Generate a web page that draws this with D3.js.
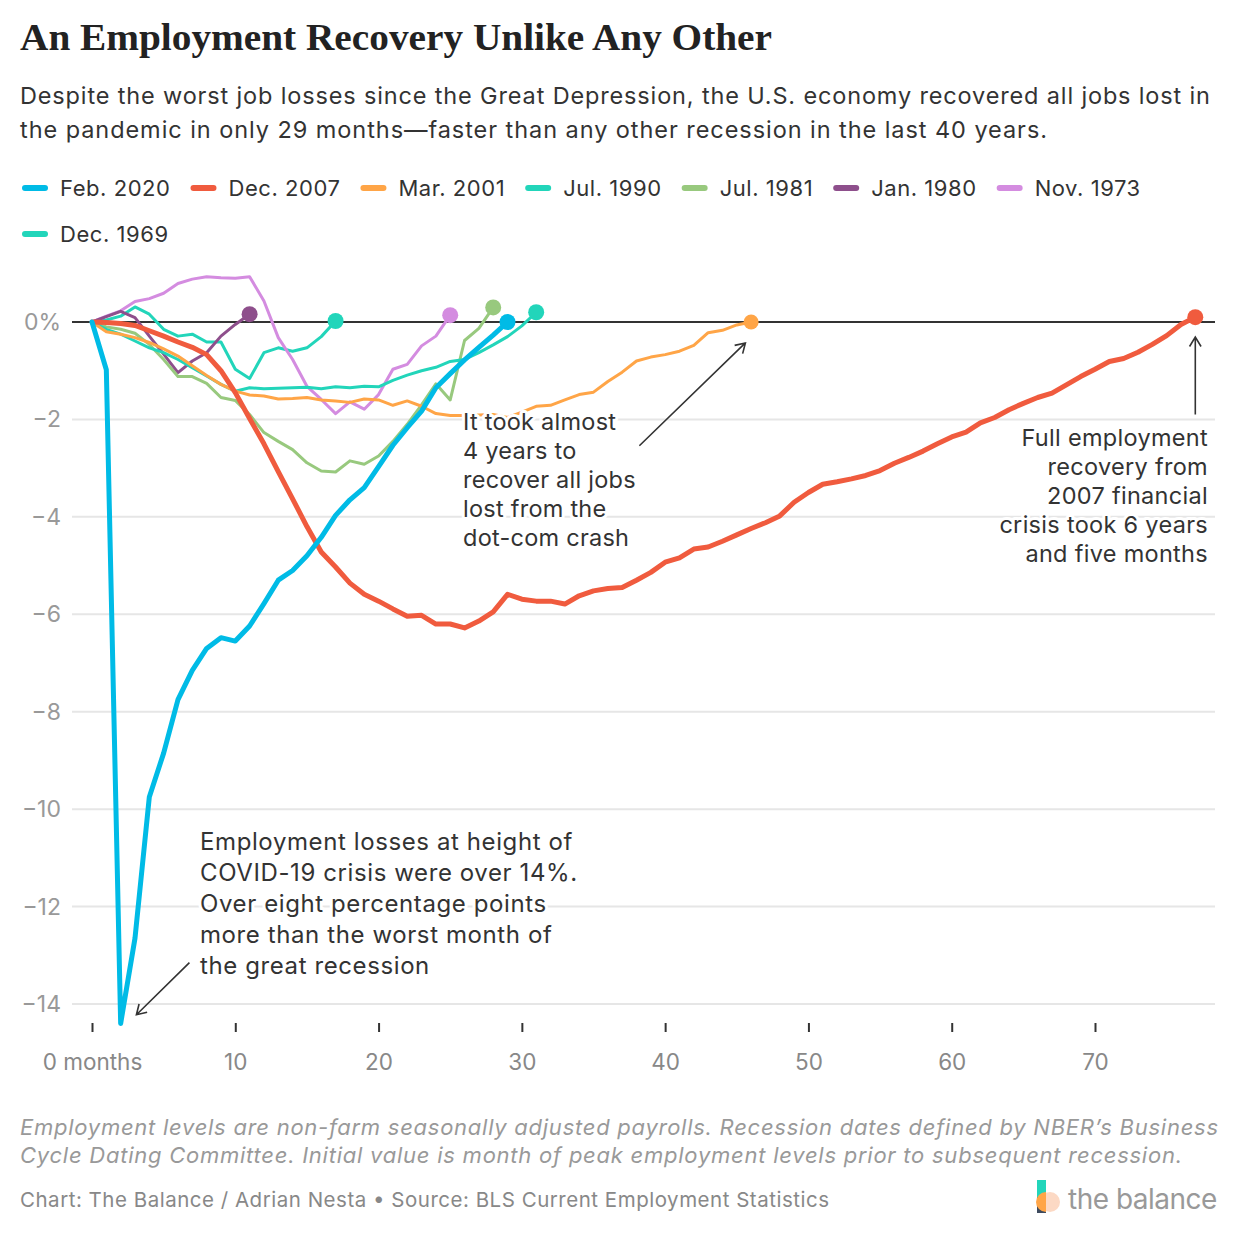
<!DOCTYPE html>
<html><head><meta charset="utf-8">
<script src="https://cdn.jsdelivr.net/npm/d3@7"></script>
<style>body{margin:0;background:#fff} svg{display:block}</style>
</head><body>
<svg id="chart" width="1240" height="1240"></svg>
<script>
// ---------- DATA ----------
const seriesNames = ["Feb. 2020","Dec. 2007","Mar. 2001","Jul. 1990","Jul. 1981","Jan. 1980","Nov. 1973","Dec. 1969"];
const feb2020 = [0,-0.98,-14.4,-12.65,-9.75,-8.85,-7.75,-7.15,-6.7,-6.48,
  -6.55,-6.24,-5.78,-5.3,-5.1,-4.8,-4.42,-3.97,-3.65,-3.4,
  -2.97,-2.53,-2.17,-1.83,-1.35,-1.06,-0.78,-0.52,-0.27,0.0];
const dec2007 = [0,-0.01,-0.03,-0.07,-0.18,-0.29,-0.41,-0.52,-0.67,-1.0,
  -1.45,-1.98,-2.5,-3.07,-3.63,-4.2,-4.72,-5.03,-5.36,-5.59,
  -5.73,-5.89,-6.04,-6.02,-6.2,-6.2,-6.28,-6.14,-5.95,-5.59,
  -5.69,-5.73,-5.73,-5.79,-5.62,-5.52,-5.47,-5.45,-5.3,-5.14,
  -4.93,-4.84,-4.66,-4.62,-4.5,-4.37,-4.24,-4.12,-3.98,-3.7,
  -3.5,-3.33,-3.28,-3.22,-3.15,-3.05,-2.9,-2.78,-2.65,-2.5,
  -2.36,-2.26,-2.07,-1.96,-1.8,-1.67,-1.55,-1.46,-1.29,-1.12,
  -0.97,-0.81,-0.75,-0.62,-0.46,-0.28,-0.05,0.1];
const mar2001 = [0,-0.2,-0.25,-0.32,-0.42,-0.55,-0.7,-0.9,-1.1,-1.28,
  -1.42,-1.5,-1.52,-1.58,-1.57,-1.55,-1.6,-1.62,-1.65,-1.58,
  -1.6,-1.71,-1.62,-1.73,-1.88,-1.92,-1.92,-1.91,-1.9,-1.96,
  -1.85,-1.73,-1.71,-1.6,-1.49,-1.44,-1.22,-1.03,-0.8,-0.72,
  -0.67,-0.6,-0.48,-0.22,-0.17,-0.06,0.0];
const jul1990 = [0,-0.15,-0.25,-0.39,-0.53,-0.63,-0.77,-0.94,-1.11,-1.28,
  -1.42,-1.35,-1.37,-1.36,-1.35,-1.34,-1.37,-1.33,-1.35,-1.32,
  -1.33,-1.2,-1.09,-1.0,-0.93,-0.81,-0.77,-0.63,-0.47,-0.3,
  -0.08,0.2];
const jul1981 = [0,-0.1,-0.15,-0.23,-0.46,-0.77,-1.12,-1.12,-1.26,-1.55,
  -1.61,-1.9,-2.27,-2.45,-2.62,-2.89,-3.06,-3.08,-2.85,-2.92,
  -2.75,-2.45,-2.1,-1.7,-1.27,-1.6,-0.38,-0.13,0.3];
const jan1980 = [0,0.11,0.22,0.09,-0.29,-0.66,-1.04,-0.8,-0.63,-0.29,-0.05,0.16];
const nov1973 = [0,0.12,0.23,0.42,0.48,0.59,0.79,0.88,0.93,0.91,
  0.9,0.93,0.43,-0.32,-0.77,-1.32,-1.59,-1.88,-1.64,-1.79,
  -1.49,-0.97,-0.87,-0.49,-0.29,0.14];
const dec1969 = [0,0.04,0.12,0.31,0.16,-0.15,-0.29,-0.25,-0.41,-0.41,
  -0.97,-1.16,-0.63,-0.53,-0.6,-0.53,-0.3,0.02];
const yTicks = [0,-2,-4,-6,-8,-10,-12,-14];
const xTicks = [0,10,20,30,40,50,60,70];

// ---------- STYLE ----------
const seriesValues = [feb2020,dec2007,mar2001,jul1990,jul1981,jan1980,nov1973,dec1969];
const colors = ["#00bbe6","#f05b3e","#ffa547","#22d5ba","#98c97e","#8e4f8c","#d48ce0","#22d5ba"];
const widths = [5,5,3,3,3,3,3,3];
const dotR = [8,8,7.5,8,8,8,8,8];
const FONT = "Inter, 'Noto Sans', sans-serif";

const svg = d3.select("#chart");
svg.append("rect").attr("width",1240).attr("height",1240).attr("fill","#fff");

// Title / subtitle
svg.append("text").attr("x",20).attr("y",50)
  .attr("font-family","'Liberation Serif', 'DejaVu Serif', serif").attr("font-weight","bold")
  .attr("font-size",38).attr("fill","#222").attr("textLength",752).attr("lengthAdjust","spacingAndGlyphs")
  .text("An Employment Recovery Unlike Any Other");
const sub = ["Despite the worst job losses since the Great Depression, the U.S. economy recovered all jobs lost in",
             "the pandemic in only 29 months—faster than any other recession in the last 40 years."];
const subLen = [1190, 1027];
sub.forEach((t,i)=>svg.append("text").attr("x",20).attr("y",104+i*34)
  .attr("font-family",FONT).attr("font-size",23.5).attr("fill","#333")
  .attr("textLength",subLen[i]).attr("lengthAdjust","spacing").text(t));

// Legend
const legend = svg.append("g").attr("font-family",FONT).attr("font-size",22).attr("fill","#333")
  .attr("letter-spacing",0.55);
let lx = 22, ly = 188;
seriesNames.forEach((n,i)=>{
  if (i===7){ lx = 22; ly = 234; }
  legend.append("rect").attr("x",lx).attr("y",ly-3).attr("width",26).attr("height",6).attr("rx",3)
    .attr("fill",colors[i]);
  const t = legend.append("text").attr("x",lx+38).attr("y",ly+8).text(n);
  lx = lx + 38 + t.node().getComputedTextLength() + 20;
});

// Scales
const x = d3.scaleLinear().domain([0,70]).range([92,1095]);
const y = d3.scaleLinear().domain([0,-14]).range([322,1004]);
const gx0 = 72, gx1 = 1215;

// Grid
const grid = svg.append("g");
yTicks.forEach(v=>{
  if (v!==0) grid.append("line").attr("x1",gx0).attr("x2",gx1).attr("y1",y(v)).attr("y2",y(v))
    .attr("stroke","#e6e6e6").attr("stroke-width",2);
  grid.append("text").attr("x",61).attr("y",y(v)+8).attr("text-anchor","end")
    .attr("font-family",FONT).attr("font-size",23).attr("fill","#999")
    .text(v===0 ? "0%" : "\u2212"+Math.abs(v));
});
// X axis
const xAxis = d3.axisBottom(x).tickValues(xTicks).tickSize(9).tickPadding(22)
  .tickFormat(d=> d===0 ? "0 months" : d);
const xg = svg.append("g").attr("transform","translate(0,1023)").call(xAxis);
xg.select(".domain").remove();
xg.selectAll("line").attr("stroke","#333").attr("stroke-width",2);
xg.selectAll("text").attr("font-family",FONT).attr("font-size",22.5).attr("fill","#888");

// Zero line
svg.append("line").attr("x1",gx0).attr("x2",gx1).attr("y1",y(0)).attr("y2",y(0))
  .attr("stroke","#333").attr("stroke-width",2);

// Lines
const line = d3.line().x((d,i)=>x(i)).y(d=>y(d));
const order = [7,6,5,4,3,2,1,0];
order.forEach(i=>{
  svg.append("path").datum(seriesValues[i]).attr("d",line).attr("fill","none")
    .attr("stroke",colors[i]).attr("stroke-width",widths[i])
    .attr("stroke-linejoin","round").attr("stroke-linecap","round");
});
order.forEach(i=>{
  const v = seriesValues[i];
  svg.append("circle").attr("cx",x(v.length-1)).attr("cy",y(v[v.length-1])).attr("r",dotR[i])
    .attr("fill",colors[i]);
});

// Annotations
function annot(lines, ax, ay, lh, anchor, size, ls){
  const g = svg.append("g").attr("font-family",FONT).attr("font-size",size).attr("text-anchor",anchor)
    .attr("letter-spacing",ls);
  lines.forEach((t,i)=>{
    g.append("text").attr("x",ax).attr("y",ay+i*lh).attr("fill","#333")
      .attr("stroke","#fff").attr("stroke-width",6).attr("paint-order","stroke").attr("stroke-linejoin","round")
      .text(t);
  });
}
function arrow(x1,y1,x2,y2){
  const a = Math.atan2(y2-y1,x2-x1), L = 11, s = 0.55;
  svg.append("path")
    .attr("d",`M${x1},${y1}L${x2},${y2}M${x2-L*Math.cos(a-s)},${y2-L*Math.sin(a-s)}L${x2},${y2}L${x2-L*Math.cos(a+s)},${y2-L*Math.sin(a+s)}`)
    .attr("fill","none").attr("stroke","#333").attr("stroke-width",1.6);
}
annot(["It took almost","4 years to","recover all jobs","lost from the","dot-com crash"],463,430,29,"start",23.5,0.25);
arrow(x(38.2),y(-2.54),x(45.6),y(-0.43));
annot(["Full employment","recovery from","2007 financial","crisis took 6 years","and five months"],1208,446,29,"end",23.5,0.3);
arrow(x(77),y(-1.9),x(77),y(-0.31));
annot(["Employment losses at height of","COVID-19 crisis were over 14%.","Over eight percentage points","more than the worst month of","the great recession"],200,850,31,"start",24,0.6);
arrow(x(6.8),y(-13.15),x(3.1),y(-14.22));

// Footer
const notes = ["Employment levels are non-farm seasonally adjusted payrolls. Recession dates defined by NBER\u2019s Business",
               "Cycle Dating Committee. Initial value is month of peak employment levels prior to subsequent recession."];
const noteLen = [1198, 1162];
notes.forEach((t,i)=>svg.append("text").attr("x",20).attr("y",1135+i*28).attr("font-family",FONT)
  .attr("font-style","italic").attr("font-size",22).attr("fill","#999")
  .attr("textLength",noteLen[i]).attr("lengthAdjust","spacing").text(t));
svg.append("text").attr("x",20).attr("y",1207).attr("font-family",FONT).attr("font-size",20.5)
  .attr("fill","#888").attr("textLength",809).attr("lengthAdjust","spacing")
  .text("Chart: The Balance / Adrian Nesta \u2022 Source: BLS Current Employment Statistics");

// Logo
const logo = svg.append("g");
logo.append("rect").attr("x",1037).attr("y",1180).attr("width",9).attr("height",33).attr("fill","#22d5ba");
logo.append("rect").attr("x",1037).attr("y",1197).attr("width",9).attr("height",16).attr("fill","#3d4a5e");
logo.append("circle").attr("cx",1050).attr("cy",1202).attr("r",10).attr("fill","#fcd9c4");
logo.append("path").attr("d","M1046,1192 A10,10 0 0,0 1046,1212 Z").attr("fill","#ffa547");
logo.append("text").attr("x",1068).attr("y",1209).attr("font-family",FONT).attr("font-size",28)
  .attr("letter-spacing",-0.5).attr("fill","#999").text("the balance");
</script>
</body></html>
